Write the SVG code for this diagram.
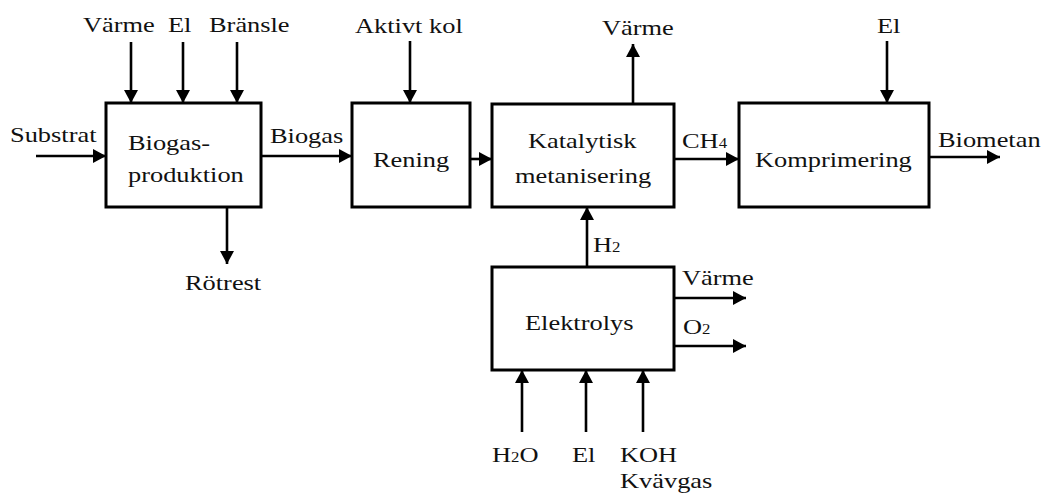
<svg xmlns="http://www.w3.org/2000/svg" width="1046" height="496" viewBox="0 0 1046 496">
<style>
.box{fill:#fff;stroke:#000;stroke-width:3}
.ln{fill:none;stroke:#000;stroke-width:2.6;marker-end:url(#ah)}
text{font-family:"Liberation Serif","Times New Roman",serif;font-size:22px;fill:#111}
.sub{font-size:14px}
</style>
<defs>
<marker id="ah" markerUnits="userSpaceOnUse" markerWidth="14" markerHeight="14" refX="13" refY="7" orient="auto">
<path d="M0,0 L13,7 L0,14 z" fill="#000"/>
</marker>
</defs>
<rect width="1046" height="496" fill="#fff"/>
<g id="connectors">
<line class="ln" x1="131" y1="42" x2="131" y2="103"/>
<line class="ln" x1="183" y1="42" x2="183" y2="103"/>
<line class="ln" x1="237" y1="42" x2="237" y2="103"/>
<line class="ln" x1="36" y1="156" x2="106" y2="156"/>
<line class="ln" x1="227" y1="207" x2="227" y2="264"/>
<line class="ln" x1="261" y1="156" x2="352" y2="156"/>
<line class="ln" x1="410" y1="41" x2="410" y2="103"/>
<line class="ln" x1="470" y1="159" x2="492" y2="159"/>
<line class="ln" x1="633" y1="104" x2="633" y2="44"/>
<line class="ln" x1="674" y1="159" x2="739" y2="159"/>
<line class="ln" x1="887" y1="41" x2="887" y2="103"/>
<line class="ln" x1="929" y1="157" x2="1000" y2="157"/>
<line class="ln" x1="587" y1="267" x2="587" y2="207"/>
<line class="ln" x1="674" y1="298" x2="746" y2="298"/>
<line class="ln" x1="674" y1="346" x2="746" y2="346"/>
<line class="ln" x1="522" y1="432" x2="522" y2="370"/>
<line class="ln" x1="586" y1="432" x2="586" y2="370"/>
<line class="ln" x1="643" y1="432" x2="643" y2="370"/>
</g>
<g id="biogasproduktion">
<rect class="box" x="106" y="103" width="155" height="104"/>
<text transform="translate(128,150) scale(1.2,1)">Biogas-</text>
<text transform="translate(128,182) scale(1.2,1)">produktion</text>
</g>
<g id="rening">
<rect class="box" x="352" y="103" width="118" height="104"/>
<text transform="translate(373,167) scale(1.2,1)">Rening</text>
</g>
<g id="katalytisk">
<rect class="box" x="492" y="104" width="182" height="103"/>
<text transform="translate(528,148) scale(1.2,1)">Katalytisk</text>
<text transform="translate(515,183) scale(1.2,1)">metanisering</text>
</g>
<g id="komprimering">
<rect class="box" x="739" y="103" width="190" height="104"/>
<text transform="translate(755,167) scale(1.2,1)">Komprimering</text>
</g>
<g id="elektrolys">
<rect class="box" x="492" y="267" width="182" height="103"/>
<text transform="translate(525,330) scale(1.2,1)">Elektrolys</text>
</g>
<g id="labels">
<text transform="translate(83,32) scale(1.2,1)">Värme</text>
<text transform="translate(168,32) scale(1.2,1)">El</text>
<text transform="translate(209,32) scale(1.2,1)">Bränsle</text>
<text transform="translate(10,142) scale(1.2,1)">Substrat</text>
<text transform="translate(270,143) scale(1.2,1)">Biogas</text>
<text transform="translate(185,290) scale(1.2,1)">Rötrest</text>
<text transform="translate(355,33) scale(1.2,1)">Aktivt kol</text>
<text transform="translate(602,35) scale(1.2,1)">Värme</text>
<text transform="translate(682,148) scale(1.2,1)">CH<tspan class="sub">4</tspan></text>
<text transform="translate(877,33) scale(1.2,1)">El</text>
<text transform="translate(938,147) scale(1.2,1)">Biometan</text>
<text transform="translate(593,252) scale(1.2,1)">H<tspan class="sub">2</tspan></text>
<text transform="translate(682,285) scale(1.2,1)">Värme</text>
<text transform="translate(683,334) scale(1.2,1)">O<tspan class="sub">2</tspan></text>
<text transform="translate(492,462) scale(1.2,1)">H<tspan class="sub">2</tspan>O</text>
<text transform="translate(572,462) scale(1.2,1)">El</text>
<text transform="translate(620,462) scale(1.2,1)">KOH</text>
<text transform="translate(620,488) scale(1.2,1)">Kvävgas</text>
</g>
</svg>
